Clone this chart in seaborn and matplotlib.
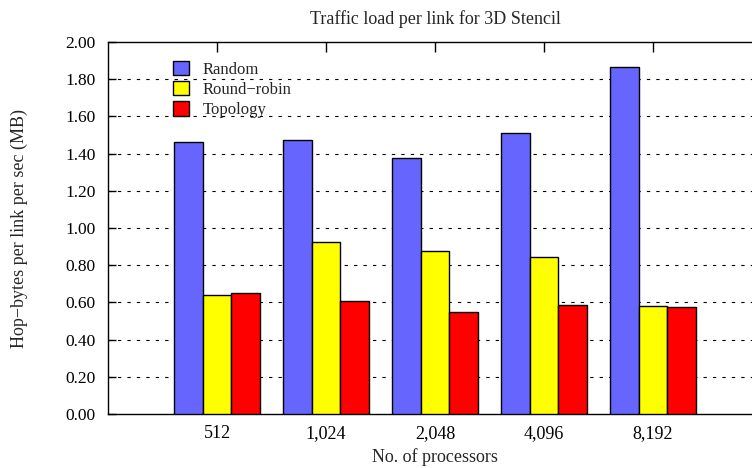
import matplotlib
matplotlib.use("Agg")
import matplotlib.pyplot as plt
import seaborn as sns
import pandas as pd

# data
procs = ["512", "1,024", "2,048", "4,096", "8,192"]
random_vals = [1.462, 1.473, 1.376, 1.513, 1.866]
roundrobin_vals = [0.638, 0.927, 0.878, 0.844, 0.583]
topology_vals = [0.649, 0.606, 0.547, 0.586, 0.577]
series = ["Random", "Round\u2212robin", "Topology"]
colors = ["#6666ff", "#ffff00", "#ff0000"]

rows = []
for name, vals in zip(series, [random_vals, roundrobin_vals, topology_vals]):
    for p, v in zip(procs, vals):
        rows.append({"procs": p, "mapping": name, "value": v})
df = pd.DataFrame(rows)

sns.set_theme(style="white")
plt.rcParams['font.family'] = ['Liberation Serif', 'DejaVu Serif']

fig = plt.figure(figsize=(7.52, 4.68), dpi=100)
W, H = 752, 468
left, right, top, bottom = 108, 762, 42, 414
ax = fig.add_axes([left / W, 1 - bottom / H, (right - left) / W, (bottom - top) / H])

sns.barplot(data=df, x="procs", y="value", hue="mapping", order=procs,
            hue_order=series, palette=colors, width=0.79, gap=0,
            edgecolor="black", linewidth=1.0, saturation=1, ax=ax, zorder=3)

ax.set_xlim(-1, 5)
ax.set_ylim(0, 2.0)
ax.set_yticks([i * 0.2 for i in range(11)])
ax.yaxis.set_major_formatter(matplotlib.ticker.FormatStrFormatter('%.2f'))
for y in [i * 0.2 for i in range(1, 10)]:
    ax.axhline(y, color="black", linestyle=(0, (3, 5.5)), linewidth=0.8, zorder=1)

ax.tick_params(axis="y", direction="in", length=6, width=1, colors="black",
               labelsize=12.5, pad=9, left=True)
ax.tick_params(axis="x", direction="in", length=7, width=1, colors="black",
               labelsize=13, pad=8, top=True, bottom=False, labelbottom=True)
for s in ax.spines.values():
    s.set_color("black")
    s.set_linewidth(1.0)

ax.set_xlabel("")
ax.set_ylabel("")
fig.text(435 / W, 1 - 457 / H, "No. of processors", ha="center", va="center", fontsize=13)
fig.text(19 / W, 1 - 228 / H, "Hop\u2212bytes per link per sec (MB)", ha="center",
         va="center", rotation=90, fontsize=13)
fig.text(435 / W, 1 - 19 / H, "Traffic load per link for 3D Stencil",
         ha="center", va="center", fontsize=13)

ax.legend(loc="upper left", bbox_to_anchor=(0.077, 0.99), frameon=False,
          handlelength=0.95, handleheight=0.95, handletextpad=0.8,
          labelspacing=0.2, fontsize=12)

fig.savefig("out.png", dpi=100)
